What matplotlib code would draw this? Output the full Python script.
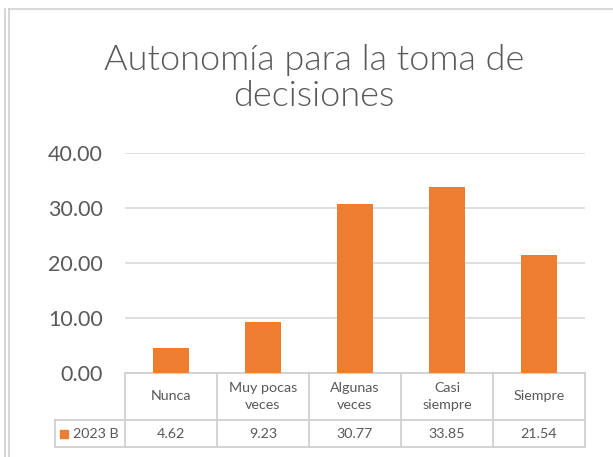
import matplotlib
matplotlib.use("Agg")
import matplotlib.pyplot as plt
from matplotlib.lines import Line2D
from matplotlib.patches import Rectangle

categories = ["Nunca", "Muy pocas\nveces", "Algunas\nveces", "Casi\nsiempre", "Siempre"]
values = [4.62, 9.23, 30.77, 33.85, 21.54]
value_labels = ["4.62", "9.23", "30.77", "33.85", "21.54"]
series_name = "2023 B"
yticks = [0, 10, 20, 30, 40]
title = "Autonomía para la toma de\ndecisiones"

BAR = "#ED7D31"
TXT = "#595959"
GRID = "#D9D9D9"
TBL = "#D0D0D0"

plt.rcParams['font.family'] = ['Lato', 'DejaVu Sans']

W, H = 613, 457
fig = plt.figure(figsize=(W / 100, H / 100), dpi=100)

# plot area in pixels
L, R, T, B = 125, 585, 153, 373
ax = fig.add_axes([L / W, 1 - B / H, (R - L) / W, (B - T) / H])
x = list(range(len(categories)))
ax.bar(x, values, width=0.4, color=BAR, zorder=3)
ax.set_xlim(-0.5, len(categories) - 0.5)
ax.set_ylim(0, 40)
ax.set_yticks(yticks)
ax.set_yticklabels([f"{v:.2f}" for v in yticks], fontsize=15.5, color=TXT)
ax.tick_params(axis='y', length=0, pad=16)
ax.set_xticks([])
for s in ax.spines.values():
    s.set_visible(False)
ax.yaxis.grid(True, color=GRID, linewidth=1.2, zorder=0)
ax.set_axisbelow(True)

# title
fig.text(314 / W, 1 - 78 / H, title, ha='center', va='center', fontsize=26,
         color=TXT, linespacing=1.17, fontweight=300)

# data table
trans = ax.get_xaxis_transform()
px = (B - T)  # pixels per axes unit in y
y_top = 0.0
y_mid = -(420 - B) / px
y_bot = -(447 - B) / px
unit = (R - L) / len(categories)
x_leg = -0.5 - (L - 55) / unit
n = len(categories)

def hline(x0, x1, y):
    ax.add_line(Line2D([x0, x1], [y, y], transform=trans, color=TBL, lw=1.3, clip_on=False))

def vline(xv, y0, y1):
    ax.add_line(Line2D([xv, xv], [y0, y1], transform=trans, color=TBL, lw=1.3, clip_on=False))

hline(-0.5, n - 0.5, y_top)
hline(x_leg, n - 0.5, y_mid)
hline(x_leg, n - 0.5, y_bot)
vline(x_leg, y_mid, y_bot)
for i in range(n + 1):
    vline(i - 0.5, y_top, y_bot)

for i, (c, v) in enumerate(zip(categories, value_labels)):
    ax.text(i, (y_top + y_mid) / 2, c, transform=trans, ha='center', va='center',
            fontsize=10.3, color=TXT, linespacing=1.5, clip_on=False)
    ax.text(i, (y_mid + y_bot) / 2, v, transform=trans, ha='center', va='center',
            fontsize=10.3, color=TXT, clip_on=False)

# legend key in table
yc = (y_mid + y_bot) / 2
sq = 8 / unit
ax.add_patch(Rectangle((x_leg + 5 / unit, yc - 4 / px), sq, 8 / px, transform=trans,
                       color=BAR, clip_on=False))
ax.text(x_leg + 18 / unit, yc, series_name, transform=trans, ha='left', va='center',
        fontsize=10.3, color=TXT, clip_on=False)

# outer frame lines (chart border)
fig.add_artist(Line2D([9 / W, 1], [1 - 8.5 / H, 1 - 8.5 / H], transform=fig.transFigure,
                      color="#D9D9D9", lw=1.5))
for xx in (5, 9):
    fig.add_artist(Line2D([xx / W, xx / W], [0, 1 - 8.5 / H], transform=fig.transFigure,
                          color="#D0D0D0", lw=1.2))

fig.savefig("out.png", dpi=100)
